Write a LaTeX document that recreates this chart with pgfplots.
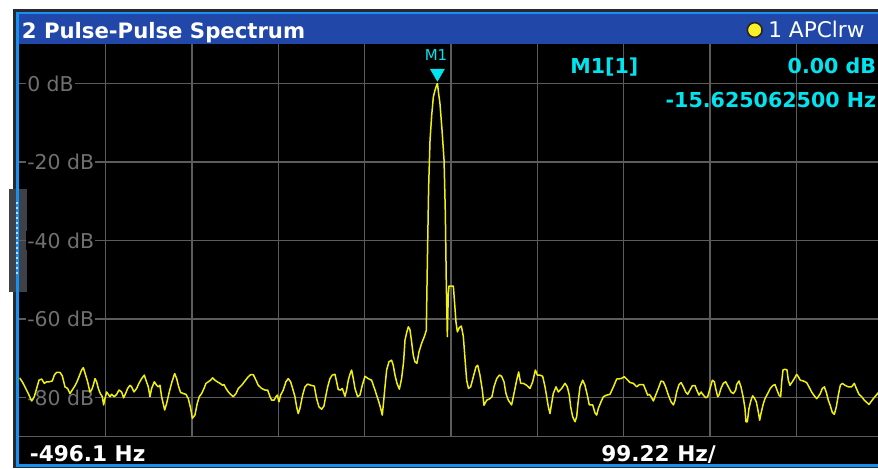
\documentclass[border=0pt]{standalone}
\usepackage{pgfplots}
\pgfplotsset{compat=1.18}
\usepackage{pgfplotstable}
\usepackage{fontspec}
\setmainfont{DejaVu Sans}

\definecolor{framedark}{RGB}{38,42,48}
\definecolor{framelight}{RGB}{24,144,240}
\definecolor{titleblue}{RGB}{33,72,168}
\definecolor{gridgray}{RGB}{92,92,92}
\definecolor{labelgray}{RGB}{112,112,112}
\definecolor{handlegray}{RGB}{62,66,72}
\definecolor{tracey}{RGB}{240,240,10}
\definecolor{mkcyan}{RGB}{0,228,240}
\definecolor{dotyellow}{RGB}{250,240,40}

% trace: frequency offset in Hz, level in dB
\pgfplotstableread{
hz db
-496.1 -75.0
-492.9 -76.0
-489.8 -77.3
-486.0 -79.0
-482.1 -80.9
-479.1 -79.8
-476.4 -77.7
-473.7 -75.6
-470.6 -75.3
-467.6 -76.4
-464.9 -76.0
-461.8 -76.0
-458.4 -75.8
-456.1 -74.3
-453.4 -73.6
-449.6 -73.6
-446.9 -74.5
-443.8 -77.3
-440.8 -77.7
-438.1 -79.0
-435.4 -78.1
-432.3 -77.0
-430.0 -76.0
-427.3 -74.5
-424.7 -73.0
-422.7 -72.4
-420.1 -74.3
-417.8 -76.0
-415.1 -78.6
-413.2 -78.1
-411.3 -76.9
-409.3 -75.2
-407.4 -76.0
-405.5 -77.7
-403.2 -79.0
-400.9 -79.8
-399.4 -81.9
-397.9 -80.3
-395.9 -78.6
-394.0 -79.2
-392.1 -79.8
-390.2 -79.2
-387.1 -79.8
-384.4 -79.2
-381.7 -78.1
-378.7 -78.6
-376.4 -80.1
-374.1 -79.0
-371.8 -77.7
-369.1 -76.9
-367.2 -77.3
-364.5 -78.6
-361.4 -77.7
-358.8 -76.4
-355.7 -75.2
-352.6 -74.3
-350.7 -75.6
-348.0 -77.3
-346.1 -79.8
-344.2 -77.7
-341.1 -76.0
-338.4 -76.9
-336.5 -77.3
-334.6 -76.9
-332.7 -79.8
-329.2 -83.2
-326.9 -81.5
-323.9 -78.6
-320.8 -76.0
-317.7 -73.9
-315.4 -75.2
-313.1 -77.3
-310.9 -78.7
-307.8 -79.0
-304.7 -79.2
-302.0 -80.3
-299.3 -82.8
-297.4 -85.3
-294.4 -84.5
-291.7 -81.5
-289.4 -79.8
-286.7 -79.0
-284.0 -77.7
-281.7 -76.4
-279.0 -76.0
-276.4 -75.6
-274.1 -75.0
-271.4 -75.6
-268.7 -76.0
-265.6 -76.4
-262.6 -76.9
-261.0 -76.7
-258.7 -77.7
-256.0 -78.6
-253.4 -79.2
-250.3 -79.8
-247.2 -79.0
-244.5 -77.7
-240.7 -76.9
-236.9 -75.8
-233.0 -74.7
-230.4 -74.2
-227.3 -74.2
-224.2 -75.6
-221.6 -76.9
-217.7 -77.7
-213.9 -78.1
-210.8 -78.1
-208.1 -79.8
-206.2 -80.7
-203.5 -80.7
-201.2 -79.8
-199.7 -79.4
-197.8 -81.1
-195.9 -79.4
-192.8 -78.1
-189.8 -76.0
-187.1 -75.2
-184.4 -76.0
-182.1 -77.7
-179.4 -79.8
-177.5 -82.4
-175.6 -84.1
-173.7 -82.8
-170.6 -79.4
-167.9 -77.3
-164.8 -76.6
-161.0 -76.9
-157.2 -77.1
-154.5 -80.3
-151.8 -82.4
-148.7 -83.0
-146.1 -82.2
-144.1 -79.8
-141.8 -77.3
-139.2 -75.2
-136.5 -74.3
-133.4 -74.1
-131.5 -76.0
-129.6 -78.0
-126.9 -78.1
-125.0 -77.7
-121.9 -79.7
-120.0 -78.1
-118.1 -75.6
-116.2 -74.1
-114.3 -73.0
-112.3 -75.2
-110.4 -77.7
-107.4 -79.8
-104.7 -79.4
-102.0 -76.9
-98.9 -74.6
-95.1 -75.2
-91.3 -75.6
-87.4 -78.1
-83.6 -80.7
-81.3 -82.4
-79.0 -84.5
-77.5 -81.1
-75.9 -77.3
-74.0 -73.0
-71.3 -70.9
-68.3 -70.5
-66.4 -71.8
-64.4 -74.3
-62.1 -76.4
-59.4 -77.9
-56.8 -75.2
-54.5 -70.9
-52.9 -65.4
-51.0 -63.5
-49.1 -62.0
-47.2 -62.7
-45.3 -65.8
-43.4 -69.2
-41.5 -70.9
-39.2 -71.3
-36.8 -68.4
-33.8 -66.2
-30.7 -64.5
-28.4 -62.9
-27.2 -45.8
-25.7 -26.3
-24.1 -14.4
-22.2 -8.1
-20.3 -3.4
-18.4 -1.7
-16.5 -0.4
-15.6 0.0
-14.2 -2.6
-12.7 -5.1
-10.3 -11.9
-8.0 -19.5
-6.5 -33.1
-5.4 -51.0
-4.2 -64.5
-3.1 -53.5
-2.3 -51.6
2.7 -51.6
4.2 -56.1
5.7 -60.7
7.3 -63.3
9.6 -62.2
11.9 -61.8
14.2 -64.5
16.1 -70.1
18.0 -75.6
20.1 -77.7
22.6 -77.3
25.7 -74.7
28.7 -72.2
30.7 -71.8
33.3 -74.3
36.0 -78.1
37.9 -82.0
41.0 -80.7
44.8 -80.3
47.1 -79.8
49.4 -77.3
52.5 -75.2
55.6 -74.3
58.2 -74.6
60.9 -76.0
63.2 -79.0
65.9 -80.7
69.7 -81.9
72.4 -79.0
75.5 -75.6
77.8 -73.5
80.1 -76.4
83.2 -76.4
87.0 -76.9
90.8 -77.7
93.9 -76.0
97.0 -73.0
99.3 -74.3
102.3 -74.3
105.4 -74.6
108.1 -77.3
110.0 -79.8
111.9 -82.4
113.8 -84.1
115.7 -81.5
117.6 -79.0
120.7 -77.3
123.4 -78.6
127.2 -77.7
131.1 -76.4
133.7 -77.3
136.0 -79.4
137.6 -82.4
139.9 -84.9
142.6 -86.2
144.5 -84.9
146.0 -81.5
148.3 -77.3
151.4 -75.6
154.0 -76.9
156.7 -79.4
159.0 -81.9
162.9 -81.9
165.5 -83.9
167.5 -84.5
169.4 -82.8
172.5 -81.1
175.2 -79.8
179.0 -79.4
182.8 -79.2
186.7 -77.3
190.5 -75.3
195.5 -75.2
199.3 -74.7
202.0 -75.3
205.8 -76.2
209.7 -76.4
213.5 -77.3
216.6 -76.7
221.2 -76.7
223.8 -78.1
226.1 -79.4
228.1 -79.2
230.0 -79.8
232.7 -80.9
235.3 -79.4
238.4 -77.7
241.5 -75.8
244.2 -76.0
246.8 -77.3
249.9 -79.4
253.0 -81.1
255.7 -81.9
257.6 -80.7
259.5 -78.6
262.2 -76.7
264.5 -76.2
267.2 -77.3
269.8 -78.6
272.1 -79.2
274.8 -78.1
277.5 -77.0
280.6 -77.0
282.5 -78.1
285.2 -79.4
287.5 -78.6
290.1 -79.4
292.8 -80.1
295.1 -79.8
297.8 -77.7
300.5 -75.6
302.8 -76.0
304.3 -77.7
306.6 -79.8
308.1 -79.4
310.4 -77.7
313.1 -76.4
315.8 -76.0
318.9 -77.3
322.0 -78.6
324.6 -79.0
327.3 -78.1
328.4 -76.7
331.1 -75.8
333.4 -77.3
336.1 -80.1
338.0 -82.8
339.1 -86.2
340.7 -86.2
342.6 -82.8
344.9 -80.7
346.8 -79.6
348.7 -80.1
351.0 -81.1
353.3 -83.7
354.9 -85.8
356.4 -84.1
358.7 -81.9
361.0 -80.3
364.1 -79.0
367.1 -77.7
369.8 -77.0
372.5 -76.7
374.8 -78.1
377.1 -79.4
379.0 -79.8
380.2 -76.0
381.7 -73.0
384.0 -72.8
386.3 -73.0
387.8 -75.6
389.7 -76.9
392.4 -76.0
394.7 -75.2
397.4 -74.1
399.3 -74.7
401.6 -75.6
405.1 -75.8
408.9 -76.2
411.6 -77.3
414.6 -78.6
417.7 -79.6
420.4 -80.3
422.3 -79.8
424.6 -79.0
426.9 -77.7
429.2 -77.3
431.5 -78.7
433.8 -80.7
436.1 -82.1
438.4 -83.8
440.7 -84.3
443.0 -82.4
445.3 -79.4
447.6 -76.9
449.9 -76.4
453.0 -76.9
456.8 -77.3
460.6 -77.3
463.7 -76.4
466.0 -77.7
469.1 -79.2
472.1 -79.8
475.2 -80.7
478.2 -81.3
480.5 -81.8
482.8 -81.1
485.5 -80.3
488.2 -79.6
490.5 -79.0
496.1 -77.5
}\spectrum

\begin{document}
\begin{tikzpicture}
\useasboundingbox (0,0) rectangle (439pt,234pt);
\clip (0,0) rectangle (439pt,234pt);

% window frame, pixel coordinates (origin top left)
\begin{scope}[x=0.5pt,y=-0.5pt,yshift=234pt]
  \fill[white] (0,0) rectangle (878,468);
  \fill[framedark] (12.5,9) rectangle (878,468);
  \fill[framelight] (15.5,11.7) rectangle (878,466.8);
  \fill[titleblue] (18.5,14.3) rectangle (878,44.3);
  \fill[black] (18.5,44.3) rectangle (878,464);
  % scroll handle
  \fill[handlegray] (9,189) rectangle (27,292);
  \fill[framelight] (15.5,189) rectangle (18.5,292);
  \foreach \yy in {203,208,...,273}
    \draw[white!70!framelight, line width=0.6pt] (15.8,\yy) -- (17.6,\yy);
\end{scope}

\begin{axis}[
  at={(9.75pt,15.65pt)}, anchor=south west,
  scale only axis, width=431.5pt, height=196.2pt,
  xmin=-496.1, xmax=496.1, ymin=-90, ymax=10,
  xtick={-396.88,-297.66,-198.44,-99.22,0,99.22,198.44,297.66,396.88},
  ytick={-80,-60,-40,-20,0},
  xticklabels={}, yticklabels={},
  extra y ticks={-90}, extra y tick labels={},
  extra y tick style={grid=major},
  grid=major, grid style={gridgray, line width=0.65pt},
  axis line style={draw=none}, major tick length=0pt,
]
  \foreach \lv/\txt in {0/0 dB,-20/-20 dB,-40/-40 dB,-60/-60 dB,-80/-80 dB}{
    \edef\temp{\noexpand\node[anchor=west, fill=black, inner xsep=0.6pt, inner ysep=1pt,
      text=labelgray, font=\noexpand\fontsize{10.2}{12}\noexpand\selectfont]
      at (axis cs:-489,\lv) {\txt};}
    \temp
  }
  \addplot[tracey, line width=0.75pt, line join=round] table[x=hz,y=db]{\spectrum};
  \addplot[only marks, mark=triangle*, mark size=3.9pt,
    mark options={fill=mkcyan, draw=mkcyan, yshift=5.2pt, rotate=180}]
    coordinates {(-15.625,0)};
\end{axis}

% texts, pixel coordinates
\begin{scope}[x=0.5pt,y=-0.5pt,yshift=234pt]
  \node[anchor=base west, inner sep=0, text=white,
    font=\bfseries\fontsize{10.6}{12}\selectfont] at (21.5,38.3) {2 Pulse-Pulse Spectrum};
  \draw[fill=dotyellow, draw=black!85, line width=0.8pt] (754.7,30) circle (7.4);
  \node[anchor=base west, inner sep=0, text=white,
    font=\fontsize{10.8}{12}\selectfont] at (768,37.4) {1 APClrw};
  \node[anchor=south, inner sep=0, text=mkcyan,
    font=\fontsize{7.5}{9}\selectfont] at (436,61) {M1};
  \node[anchor=base west, inner sep=0, text=mkcyan,
    font=\bfseries\fontsize{10.3}{12}\selectfont] at (570,73) {M1[1]};
  \node[anchor=base east, inner sep=0, text=mkcyan,
    font=\bfseries\fontsize{10.3}{12}\selectfont] at (876.5,73) {0.00 dB};
  \node[anchor=base east, inner sep=0, text=mkcyan,
    font=\bfseries\fontsize{10.3}{12}\selectfont] at (876.5,107.3) {-15.625062500 Hz};
  \node[anchor=base west, inner sep=0, text=white,
    font=\bfseries\fontsize{10.8}{12}\selectfont] at (29.5,461) {-496.1 Hz};
  \node[anchor=base west, inner sep=0, text=white,
    font=\bfseries\fontsize{10.8}{12}\selectfont] at (601,461) {99.22 Hz/};
\end{scope}
\end{tikzpicture}
\end{document}
